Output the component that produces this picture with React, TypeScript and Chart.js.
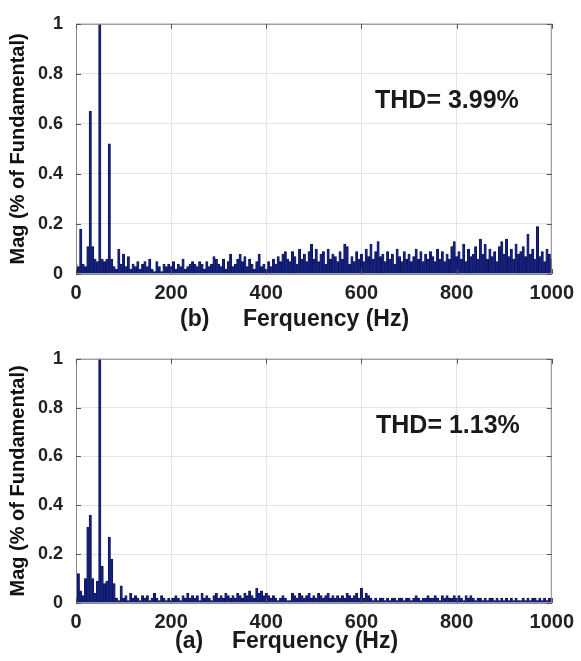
import React, { useEffect, useRef } from 'react';
import { Chart, registerables } from 'chart.js';

Chart.register(...registerables);

// Frequency bins (Hz), 5 Hz resolution from 0 to 1000 Hz
const binStepHz = 5;
const frequencies: number[] = Array.from({ length: 201 }, (_, k) => k * binStepHz);

const xTickValues = [0, 200, 400, 600, 800, 1000];
const yTickValues = [0, 0.2, 0.4, 0.6, 0.8, 1];

// (b) spectrum, THD = 3.99 %
const spectrumB: number[] = [
  0.04, 0.03, 0.18, 0.04, 0.03, 0.11, 0.65, 0.11, 0.06, 0.05,
  1.0, 0.06, 0.05, 0.06, 0.52, 0.06, 0.03, 0.02, 0.10, 0.04,
  0.08, 0.03, 0.07, 0.02, 0.04, 0.03, 0.05, 0.02, 0.04, 0.05,
  0.03, 0.06, 0.02, 0.01, 0.05, 0.03, 0.01, 0.04, 0.03, 0.04,
  0.03, 0.05, 0.02, 0.04, 0.03, 0.06, 0.02, 0.03, 0.04, 0.05,
  0.04, 0.03, 0.05, 0.04, 0.02, 0.05, 0.03, 0.04, 0.07, 0.06,
  0.04, 0.03, 0.06, 0.02, 0.05, 0.08, 0.03, 0.04, 0.06, 0.08,
  0.05, 0.07, 0.03, 0.06, 0.04, 0.02, 0.05, 0.08, 0.03, 0.04,
  0.02, 0.05, 0.03, 0.06, 0.04, 0.07, 0.05, 0.08, 0.09, 0.06,
  0.05, 0.09, 0.07, 0.04, 0.10, 0.06, 0.08, 0.05, 0.09, 0.12,
  0.06, 0.10, 0.05, 0.08, 0.09, 0.04, 0.10, 0.06, 0.08, 0.07,
  0.05, 0.09, 0.06, 0.12, 0.11, 0.04, 0.07, 0.05, 0.09, 0.06,
  0.08, 0.05, 0.10, 0.07, 0.12, 0.06, 0.09, 0.13, 0.07, 0.08,
  0.05, 0.09, 0.06, 0.08, 0.04, 0.10, 0.07, 0.05, 0.09, 0.06,
  0.08, 0.05, 0.07, 0.10, 0.06, 0.09, 0.05, 0.08, 0.06, 0.09,
  0.07, 0.05, 0.10, 0.06, 0.09, 0.05, 0.08, 0.06, 0.11, 0.13,
  0.07, 0.09, 0.06, 0.12, 0.05, 0.10, 0.07, 0.08, 0.11, 0.06,
  0.14, 0.08, 0.12, 0.06, 0.10, 0.07, 0.09, 0.05, 0.11, 0.13,
  0.08, 0.14, 0.07, 0.10, 0.06, 0.12, 0.08, 0.09, 0.11, 0.07,
  0.16, 0.08, 0.10, 0.06, 0.19, 0.07, 0.09, 0.05, 0.10, 0.08,
  0.06,
];

// (a) spectrum, THD = 1.13 %
const spectrumA: number[] = [
  0.04, 0.12, 0.05, 0.03, 0.10, 0.31, 0.36, 0.10, 0.04, 0.09,
  1.0, 0.15, 0.08, 0.09, 0.27, 0.18, 0.08, 0.02, 0.01, 0.07,
  0.02, 0.03, 0.01, 0.04, 0.02, 0.03, 0.02, 0.01, 0.03, 0.02,
  0.03, 0.01, 0.02, 0.04, 0.02, 0.01, 0.03, 0.02, 0.01, 0.02,
  0.01, 0.02, 0.03, 0.02, 0.01, 0.03, 0.02, 0.04, 0.02, 0.03,
  0.02, 0.03, 0.01, 0.04, 0.02, 0.03, 0.02, 0.01, 0.03, 0.04,
  0.02, 0.03, 0.02, 0.04, 0.03, 0.02, 0.03, 0.02, 0.04, 0.03,
  0.02, 0.04, 0.03, 0.05, 0.03, 0.02, 0.06, 0.04, 0.05, 0.03,
  0.04, 0.03, 0.02, 0.03, 0.02, 0.01, 0.02, 0.03, 0.02, 0.01,
  0.01, 0.04, 0.03, 0.02, 0.04, 0.03, 0.02, 0.03, 0.04, 0.02,
  0.03, 0.02, 0.04, 0.03, 0.02, 0.03, 0.04, 0.02, 0.03, 0.02,
  0.03, 0.02, 0.03, 0.02, 0.04, 0.03, 0.02, 0.03, 0.04, 0.02,
  0.06, 0.02, 0.04, 0.03, 0.02, 0.01, 0.02, 0.01, 0.02, 0.02,
  0.01, 0.02, 0.01, 0.02, 0.02, 0.01, 0.02, 0.02, 0.01, 0.02,
  0.02, 0.01, 0.02, 0.03, 0.02, 0.01, 0.02, 0.02, 0.03, 0.02,
  0.02, 0.03, 0.02, 0.01, 0.03, 0.02, 0.03, 0.02, 0.02, 0.03,
  0.02, 0.03, 0.02, 0.01, 0.03, 0.02, 0.03, 0.02, 0.01, 0.02,
  0.02, 0.01, 0.02, 0.01, 0.02, 0.02, 0.01, 0.02, 0.01, 0.02,
  0.01, 0.02, 0.01, 0.02, 0.01, 0.02, 0.01, 0.01, 0.02, 0.01,
  0.02, 0.01, 0.02, 0.02, 0.01, 0.02, 0.01, 0.02, 0.01, 0.02,
  0.02,
];

const FONT = '"Liberation Sans", Arial, Helvetica, sans-serif';

type PanelProps = {
  values: number[];
  tag: string;
  thd: string;
  width: number;
  height: number;
  areaTop: number;
  areaBottom: number;
  areaRight: number;
  tagX: number;
  titleX: number;
  titleY: number;
  thdX: number;
  thdY: number;
};

function SpectrumPanel(p: PanelProps) {
  const ref = useRef<HTMLCanvasElement>(null);

  useEffect(() => {
    if (!ref.current) return;
    const framePlugin = {
      id: 'framePlugin',
      afterDatasetsDraw(chart: any) {
        const ctx = chart.ctx as CanvasRenderingContext2D;
        const { left, right, top, bottom } = chart.chartArea;
        const xs = chart.scales.x;
        const ys = chart.scales.y;
        ctx.save();
        ctx.strokeStyle = '#8a8a8a';
        ctx.lineWidth = 1;
        ctx.strokeRect(left + 0.5, top + 0.5, right - left - 1, bottom - top);
        ctx.strokeStyle = '#555';
        ctx.beginPath();
        xTickValues.forEach((v) => {
          const x = Math.round(xs.getPixelForValue(v)) + 0.5;
          ctx.moveTo(x, top);
          ctx.lineTo(x, top + 5);
          ctx.moveTo(x, bottom);
          ctx.lineTo(x, bottom - 5);
        });
        yTickValues.forEach((v) => {
          const y = Math.round(ys.getPixelForValue(v)) + 0.5;
          ctx.moveTo(left, y);
          ctx.lineTo(left + 5, y);
          ctx.moveTo(right, y);
          ctx.lineTo(right - 5, y);
        });
        ctx.stroke();
        ctx.restore();
      },
      afterDraw(chart: any) {
        const ctx = chart.ctx as CanvasRenderingContext2D;
        ctx.save();
        ctx.fillStyle = '#1a1a1a';
        ctx.textBaseline = 'middle';
        ctx.textAlign = 'left';
        ctx.font = `bold 23px ${FONT}`;
        ctx.fillText(p.tag, p.tagX, p.titleY);
        ctx.fillText('Ferquency (Hz)', p.titleX, p.titleY);
        ctx.font = `bold 25px ${FONT}`;
        ctx.fillText(p.thd, p.thdX, p.thdY);
        ctx.restore();
      },
    };

    const chart = new Chart(ref.current, {
      type: 'bar',
      data: {
        datasets: [
          {
            data: frequencies.map((f, i) => ({ x: f, y: p.values[i] })),
            backgroundColor: '#142083',
            borderColor: '#0b1046',
            borderWidth: 0.6,
            barPercentage: 1,
            categoryPercentage: 1,
            grouped: false,
          } as any,
        ],
      },
      options: {
        animation: false,
        responsive: false,
        events: [],
        layout: { padding: { left: 0, right: p.width - p.areaRight, top: p.areaTop, bottom: 0 } },
        plugins: { legend: { display: false }, tooltip: { enabled: false } },
        scales: {
          x: {
            type: 'linear',
            min: 0,
            max: 1000,
            offset: false,
            afterBuildTicks: (s: any) => {
              s.ticks = xTickValues.map((v) => ({ value: v }));
            },
            afterFit: (s: any) => {
              s.height = p.height - p.areaBottom;
            },
            ticks: {
              autoSkip: false,
              maxRotation: 0,
              padding: 7,
              color: '#222',
              font: { family: FONT, size: 20, weight: 'bold' },
              callback: (v: any) => String(v),
            },
            grid: { color: '#e4e4e4', drawTicks: false, offset: false },
            border: { display: false },
          },
          y: {
            type: 'linear',
            min: 0,
            max: 1,
            afterBuildTicks: (s: any) => {
              s.ticks = yTickValues.map((v) => ({ value: v }));
            },
            afterFit: (s: any) => {
              s.width = 76;
            },
            ticks: {
              padding: 13,
              color: '#222',
              font: { family: FONT, size: 18, weight: 'bold' },
              callback: (v: any) => String(v),
            },
            grid: { color: '#e4e4e4', drawTicks: false },
            border: { display: false },
            title: {
              display: true,
              text: 'Mag (% of Fundamental)',
              color: '#111',
              font: { family: FONT, size: 20, weight: 'bold' },
              padding: { top: 6, bottom: 0 },
            },
          },
        },
      },
      plugins: [framePlugin],
    } as any);
    return () => chart.destroy();
  }, []);

  return <canvas ref={ref} width={p.width} height={p.height} style={{ display: 'block' }} />;
}

export default function App() {
  return (
    <div style={{ position: 'absolute', left: 0, top: 0, width: 581, height: 661, background: '#fff' }}>
      <SpectrumPanel
        values={spectrumB}
        tag="(b)"
        thd="THD= 3.99%"
        width={581}
        height={335}
        areaTop={15}
        areaBottom={274}
        areaRight={556}
        tagX={180}
        titleX={243}
        titleY={320}
        thdX={375}
        thdY={101}
      />
      <SpectrumPanel
        values={spectrumA}
        tag="(a)"
        thd="THD= 1.13%"
        width={581}
        height={326}
        areaTop={13}
        areaBottom={268}
        areaRight={556}
        tagX={175}
        titleX={232}
        titleY={307}
        thdX={376}
        thdY={91}
      />
    </div>
  );
}
